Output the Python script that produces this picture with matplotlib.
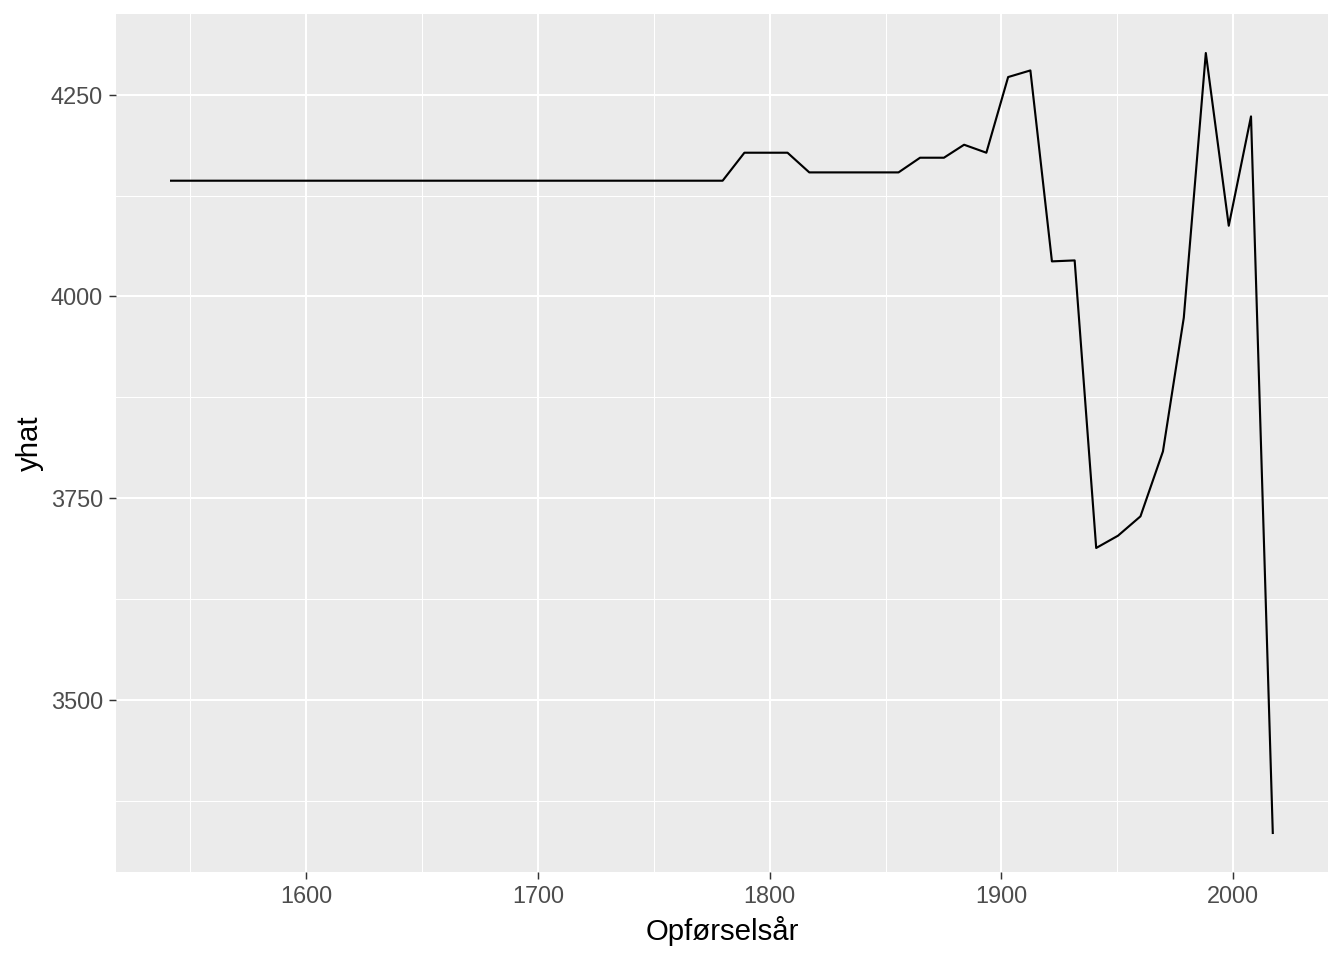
import numpy as np
import matplotlib
matplotlib.use("Agg")
from matplotlib import pyplot as plt
from matplotlib.ticker import MultipleLocator

# vertices
years = [1541.7, 1779.7, 1789.1, 1807.7, 1817.1, 1855.6, 1864.9, 1875.2, 1883.9,
         1893.5, 1902.9, 1912.5, 1921.8, 1931.6, 1940.9, 1950.3, 1960.0, 1969.7,
         1978.7, 1988.2, 1998.1, 2007.7, 2017.1]
yhat = [4143.4, 4143.4, 4178.1, 4178.1, 4153.7, 4153.7, 4171.9, 4171.9, 4188.0,
        4178.1, 4271.9, 4280.1, 4043.4, 4044.6, 3688.1, 3703.3, 3727.3, 3807.8,
        3973.6, 4301.7, 4087.6, 4223.1, 3334.8]

x_ticks = [1600, 1700, 1800, 1900, 2000]
y_ticks = [3500, 3750, 4000, 4250]

plt.rcParams['font.family'] = ['Liberation Sans', 'DejaVu Sans']

fig = plt.figure(figsize=(7, 5), dpi=192)
ax = fig.add_axes([0.0863, 0.0917, 0.988 - 0.0863, 0.9854 - 0.0917])
ax.set_facecolor('#EBEBEB')

ax.plot(years, yhat, color='black', lw=0.8, zorder=3)

# ggplot-like 5% expansion
xr = max(years) - min(years)
yr = max(yhat) - min(yhat)
ax.set_xlim(min(years) - 0.05 * xr, max(years) + 0.05 * xr)
ax.set_ylim(min(yhat) - 0.05 * yr, max(yhat) + 0.05 * yr)

ax.set_xticks(x_ticks)
ax.set_yticks(y_ticks)
ax.xaxis.set_minor_locator(MultipleLocator(50))
ax.yaxis.set_minor_locator(MultipleLocator(125))
ax.grid(which='major', color='white', lw=0.75)
ax.grid(which='minor', color='white', lw=0.4)
ax.set_axisbelow(True)

ax.tick_params(which='major', length=2.75, width=0.55, color='#333333',
               labelsize=8.8, labelcolor='#4D4D4D', pad=2.2)
ax.tick_params(which='minor', length=0)
for s in ax.spines.values():
    s.set_visible(False)

ax.set_xlabel('Opførselsår', fontsize=11, color='black', labelpad=3)
ax.set_ylabel('yhat', fontsize=11, color='black', labelpad=2.5)

fig.savefig('out.png', dpi=192)
